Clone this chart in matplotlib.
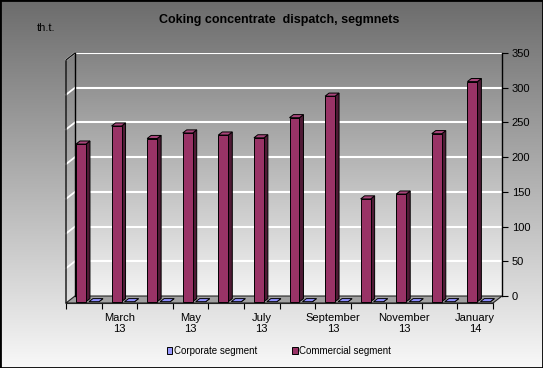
import numpy as np
import matplotlib.pyplot as plt
from matplotlib.patches import Polygon, Rectangle, Patch
from matplotlib.colors import LinearSegmentedColormap

plt.rcParams['font.family'] = ['Liberation Sans', 'DejaVu Sans']

# data (th.t.), Feb 2013 - Jan 2014
months = ['February 13', 'March 13', 'April 13', 'May 13', 'June 13', 'July 13',
          'August 13', 'September 13', 'October 13', 'November 13', 'December 13', 'January 14']
tick_labels = ['', 'March\n13', '', 'May\n13', '', 'July\n13', '', 'September\n13',
               '', 'November\n13', '', 'January\n14']
corporate = [0, 0, 0, 0, 0, 0, 0, 0, 0, 0, 0, 0]
commercial = [227, 253, 235, 243, 240, 236, 265, 296, 148, 155, 242, 317]

W, H = 543, 368
fig = plt.figure(figsize=(W / 100, H / 100), dpi=100)

# figure background gradient + border
bg = fig.add_axes([0, 0, 1, 1])
bg.set_axis_off()
grad = np.linspace(0, 1, 256).reshape(-1, 1)
cm_bg = LinearSegmentedColormap.from_list('bg', ['#f8f8f8', '#6c6c6c'])
bg.imshow(grad, aspect='auto', cmap=cm_bg, extent=[0, 1, 0, 1], origin='lower')
bg.add_patch(Rectangle((0, 0), 1, 1, transform=bg.transAxes, fill=False,
                       edgecolor='black', lw=2))

# back wall axes
left, bottom, width, height = 75 / W, (H - 296) / H, 427 / W, 243 / H
ax = fig.add_axes([left, bottom, width, height])
ax.set_xlim(0, 12)
ax.set_ylim(0, 350)
cm_wall = LinearSegmentedColormap.from_list('wall', ['#f4f4f4', '#848484'])
ax.imshow(grad, aspect='auto', cmap=cm_wall, extent=[0, 12, 0, 350], origin='lower', zorder=0)
ax.set_facecolor('none')
ax.set_axisbelow(True)
ax.set_yticks(range(0, 351, 50))
ax.yaxis.tick_right()
ax.grid(axis='y', color='white', lw=1.5)
ax.tick_params(axis='y', right=True, left=False, direction='out', length=4,
               labelsize=8, pad=3, width=0.8)
ax.tick_params(axis='x', bottom=False, labelbottom=False)
for s in ['top', 'bottom']:
    ax.spines[s].set_visible(False)
ax.spines['right'].set_linewidth(1)
ax.spines['left'].set_linewidth(1)

# depth of the 3D box in data units
px_x, px_y = 427 / 12, 243 / 350
ddx, ddy = -9 / px_x, -7 / px_y


def at(x, y, f):
    return (x + f * ddx, y + f * ddy)


# floor
ax.add_patch(Polygon([at(0, 0, 0), at(12, 0, 0), at(12, 0, 1), at(0, 0, 1)],
                     fc='#a0a0a0', ec='#222222', lw=0.8, clip_on=False, zorder=2))
# left wall: gridlines carried onto it, then its edges
for v in range(50, 351, 50):
    ax.plot(*zip(at(0, v, 1), at(0, v, 0)), color='white', lw=1.3, clip_on=False, zorder=2)
ax.plot(*zip(at(0, 0, 1), at(0, 350, 1), at(0, 350, 0)), color='#111111', lw=1,
        clip_on=False, zorder=2)


def draw_bar(x0, w, v, c_front, c_side, c_top):
    f1, f0 = 0.81, 0.37
    kw = dict(ec='black', lw=0.7, clip_on=False, zorder=3)
    ax.add_patch(Polygon([at(x0 + w, 0, f1), at(x0 + w, 0, f0), at(x0 + w, v, f0),
                          at(x0 + w, v, f1)], fc=c_side, **kw))
    ax.add_patch(Polygon([at(x0, v, f1), at(x0 + w, v, f1), at(x0 + w, v, f0),
                          at(x0, v, f0)], fc=c_top, **kw))
    if v > 0:
        ax.add_patch(Polygon([at(x0, 0, f1), at(x0 + w, 0, f1), at(x0 + w, v, f1),
                              at(x0, v, f1)], fc=c_front, **kw))


bw = 0.281
for i in range(len(months)):
    draw_bar(i + 0.233, bw, commercial[i], '#993366', '#4f1a35', '#a8457a')
    draw_bar(i + 0.598, bw, corporate[i], '#9999ff', '#4d4d99', '#8f8fff')

# category axis along the front edge of the floor
axf = fig.add_axes([left - 9 / W, bottom - 7 / H, width, height])
axf.set_xlim(0, 12)
axf.set_ylim(0, 350)
axf.patch.set_visible(False)
for s in ['top', 'left', 'right']:
    axf.spines[s].set_visible(False)
axf.spines['bottom'].set_color('#222222')
axf.set_yticks([])
axf.set_xticks(range(13))
axf.tick_params(axis='x', which='major', direction='out', length=4, width=0.8,
                labelbottom=False)
axf.set_xticks(np.arange(12) + 0.5, minor=True)
axf.set_xticklabels(tick_labels, minor=True)
axf.tick_params(axis='x', which='minor', length=0, labelsize=8, pad=7)

# texts
fig.text(279 / W, 1 - 20 / H, 'Coking concentrate  dispatch, segmnets', ha='center',
         va='center', fontsize=9, fontweight='bold')
fig.text(37 / W, 1 - 28 / H, 'th.t.', fontsize=8, va='center')

fig.legend(handles=[Patch(fc='#9999ff', ec='black', lw=0.7),
                    Patch(fc='#993366', ec='black', lw=0.7)],
           labels=['Corporate segment', 'Commercial segment'],
           loc='center', bbox_to_anchor=(279 / W, 1 - 351 / H), ncol=2, frameon=False,
           fontsize=7, handlelength=0.6, handleheight=0.6, handletextpad=0.2,
           columnspacing=3.5)

fig.savefig('out.png', dpi=100)
